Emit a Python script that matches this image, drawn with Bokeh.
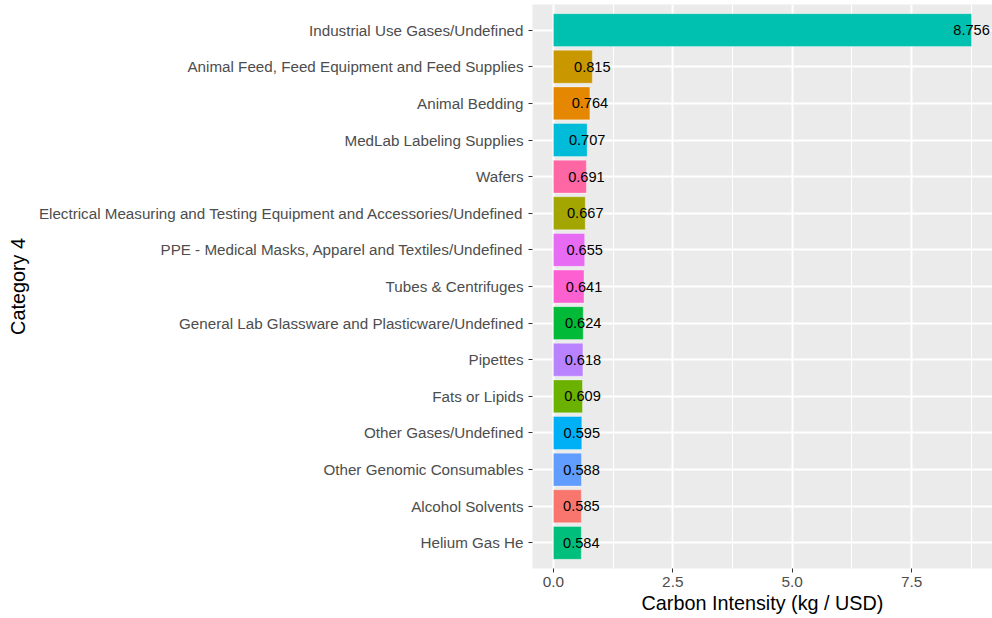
from bokeh.plotting import figure
from bokeh.models import ColumnDataSource, FactorRange, Range1d, FixedTicker, NumeralTickFormatter
from bokeh.embed import file_html
from bokeh.resources import INLINE
from bokeh.core.properties import value

# Data (top to bottom as shown)
categories = [
    "Industrial Use Gases/Undefined",
    "Animal Feed, Feed Equipment and Feed Supplies",
    "Animal Bedding",
    "MedLab Labeling Supplies",
    "Wafers",
    "Electrical Measuring and Testing Equipment and Accessories/Undefined",
    "PPE - Medical Masks, Apparel and Textiles/Undefined",
    "Tubes & Centrifuges",
    "General Lab Glassware and Plasticware/Undefined",
    "Pipettes",
    "Fats or Lipids",
    "Other Gases/Undefined",
    "Other Genomic Consumables",
    "Alcohol Solvents",
    "Helium Gas He",
]
values = [8.756, 0.815, 0.764, 0.707, 0.691, 0.667, 0.655, 0.641,
          0.624, 0.618, 0.609, 0.595, 0.588, 0.585, 0.584]
bar_colors = ["#00C0AF", "#C99800", "#E58700", "#00BCD8", "#FF67A4",
              "#A3A500", "#E76BF3", "#FD61D1", "#00BA38", "#B983FF",
              "#6BB100", "#00B0F6", "#619CFF", "#F8766D", "#00BF7D"]
x_ticks = [0, 2.5, 5.0, 7.5]
x_tick_labels = ["0.0", "2.5", "5.0", "7.5"]
x_minor_ticks = [1.25, 3.75, 6.25, 8.75]

FONT = "Liberation Sans"

src = ColumnDataSource(dict(
    cat=categories,
    val=values,
    color=bar_colors,
    label=["%.3f" % v for v in values],
))

vmax = max(values)
pad = 0.05 * vmax

p = figure(
    width=992, height=618,
    y_range=FactorRange(factors=categories[::-1], range_padding=0.2,
                        range_padding_units="absolute"),
    x_range=Range1d(-pad, vmax + pad),
    output_backend="svg", toolbar_location=None,
    min_border_left=532, min_border_right=0,
    min_border_top=4, min_border_bottom=50,
)

p.background_fill_color = "#EBEBEB"
p.border_fill_color = "white"
p.outline_line_color = None

p.hbar(y="cat", left=0, right="val", height=0.9, source=src,
       fill_color="color", line_color="white", line_alpha=0.35, line_width=1)

p.text(x="val", y="cat", text="label", source=src,
       text_align="center", text_baseline="middle",
       text_font=value(FONT), text_font_size=value("14.6px"), text_color="black")

# grids
p.xgrid.ticker = FixedTicker(ticks=x_ticks, minor_ticks=x_minor_ticks)
p.xgrid.grid_line_color = "white"
p.xgrid.grid_line_width = 2
p.xgrid.minor_grid_line_color = "white"
p.xgrid.minor_grid_line_width = 1
p.ygrid.grid_line_color = "white"
p.ygrid.grid_line_width = 2

# axes
for ax in (p.xaxis[0], p.yaxis[0]):
    ax.axis_line_color = None
    ax.minor_tick_line_color = None
    ax.major_tick_line_color = "#333333"
    ax.major_tick_line_width = 1
    ax.major_tick_out = 4
    ax.major_tick_in = 0
    ax.major_label_text_color = "#4D4D4D"
    ax.major_label_text_font = FONT
    ax.axis_label_text_font = FONT
    ax.axis_label_text_font_size = "19.8px"
    ax.axis_label_text_font_style = "normal"
    ax.axis_label_text_color = "black"

p.xaxis.major_label_text_font_size = "15.4px"
p.yaxis.major_label_text_font_size = "15.2px"

p.xaxis.ticker = FixedTicker(ticks=x_ticks)
p.xaxis.formatter = NumeralTickFormatter(format="0.0")
p.xaxis.major_label_overrides = dict(zip(x_ticks, x_tick_labels))
p.xaxis.major_label_standoff = 4
p.xaxis.axis_label = "Carbon Intensity (kg / USD)"
p.xaxis.axis_label_standoff = 2

p.yaxis.major_label_standoff = 5
p.yaxis.axis_label = "Category 4"
p.yaxis.axis_label_standoff = 7

open("out.html", "w").write(file_html(p, INLINE))
